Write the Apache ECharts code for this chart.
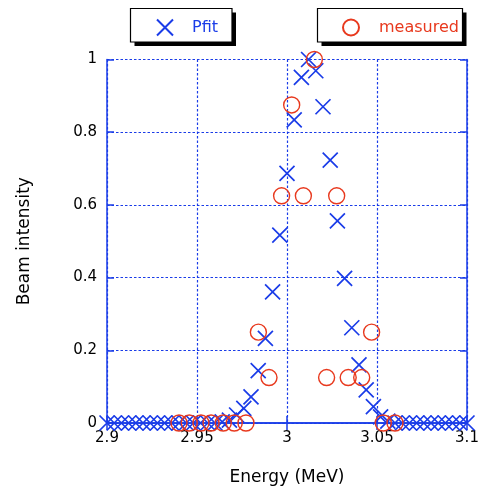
<!DOCTYPE html>
<html>
<head>
<meta charset="utf-8">
<script src="https://cdn.jsdelivr.net/npm/echarts@6/dist/echarts.min.js"></script>
<style>html,body{margin:0;padding:0;background:#fff;}#c{width:481px;height:488px;}</style>
</head>
<body>
<div id="c"></div>
<script>
// Pfit (crosses)
const pfitX = [2.900,2.904,2.908,2.912,2.916,2.920,2.924,2.928,2.932,2.936,
  2.940,2.944,2.948,2.952,2.956,2.960,2.964,2.968,2.972,2.976,
  2.980,2.984,2.988,2.992,2.996,3.000,3.004,3.008,3.012,3.016,
  3.020,3.024,3.028,3.032,3.036,3.040,3.044,3.048,3.052,3.056,
  3.060,3.064,3.068,3.072,3.076,3.080,3.084,3.088,3.092,3.096,3.100];
const pfitY = [0,0,0,0,0,0,0,0,0,0,
  0,0,0,0,0,0,0.003,0.008,0.022,0.040,
  0.072,0.144,0.233,0.361,0.517,0.687,0.834,0.951,1.000,0.969,
  0.870,0.723,0.556,0.398,0.262,0.160,0.091,0.045,0.017,0.005,
  0,0,0,0,0,0,0,0,0,0,0];
// measured (circles)
const measX = [2.940,2.9457,2.9522,2.9578,2.9646,2.9707,2.9772,2.9841,2.990,2.997,
  3.0026,3.0091,3.0152,3.022,3.0276,3.034,3.0415,3.047,3.0535,3.060];
const measY = [0,0,0,0,0,0,0,0.25,0.125,0.625,
  0.875,0.625,1.0,0.125,0.625,0.125,0.125,0.25,0,0];
const xTicks = ['2.9','2.95','3','3.05','3.1'];
const yTicks = ['0','0.2','0.4','0.6','0.8','1'];

const BLUE = '#1a3ce8';
const RED = '#e8391e';
const FONT = 'DejaVu Sans';
const CROSS = 'path://M0,0L10,10M10,0L0,10';

const chart = echarts.init(document.getElementById('c'), null, {renderer: 'canvas'});
const zip = (a, b) => a.map((v, i) => [v, b[i]]);

const gridLine = {show: true, lineStyle: {color: BLUE, width: 1.2, type: [2.5, 2]}};
const tickIn = {show: true, inside: true, length: 7, lineStyle: {color: BLUE, width: 1.5}};

chart.setOption({
  animation: false,
  backgroundColor: '#fff',
  grid: {left: 107, right: 14, top: 59.5, bottom: 65, containLabel: false, outerBoundsMode: 'none'},
  graphic: [
    {type: 'rect', z: 1, shape: {x: 134.5, y: 12.5, width: 101.5, height: 33.5}, style: {fill: '#000'}},
    {type: 'rect', z: 1, shape: {x: 130.5, y: 8.5, width: 101.5, height: 33.5}, style: {fill: '#fff', stroke: '#000', lineWidth: 1.2}},
    {type: 'rect', z: 1, shape: {x: 321.5, y: 12.5, width: 145, height: 33.5}, style: {fill: '#000'}},
    {type: 'rect', z: 1, shape: {x: 317.5, y: 8.5, width: 145, height: 33.5}, style: {fill: '#fff', stroke: '#000', lineWidth: 1.2}}
  ],
  legend: [
    {data: ['Pfit'], left: 156, top: 18.5, padding: 0, itemWidth: 16, itemHeight: 16,
     textStyle: {color: BLUE, fontFamily: FONT, fontSize: 16, padding: [0, 0, 0, 14]}},
    {data: ['measured'], left: 342, top: 18.5, padding: 0, itemWidth: 16, itemHeight: 16,
     textStyle: {color: RED, fontFamily: FONT, fontSize: 16, padding: [0, 0, 0, 15]}}
  ],
  xAxis: [
    {type: 'value', min: 2.9, max: 3.1, interval: 0.05,
     name: 'Energy (MeV)', nameLocation: 'middle', nameGap: 46,
     nameTextStyle: {color: '#000', fontFamily: FONT, fontSize: 17},
     axisLine: {show: true, onZero: false, lineStyle: {color: BLUE, width: 1.5}},
     axisTick: tickIn, splitLine: gridLine,
     axisLabel: {color: '#000', fontFamily: FONT, fontSize: 15, margin: 8,
       formatter: v => xTicks[Math.round((v - 2.9) / 0.05)]}},
    {type: 'value', position: 'top', min: 2.9, max: 3.1, interval: 0.05,
     axisLine: {show: true, lineStyle: {color: BLUE, width: 1.5}},
     axisTick: tickIn, axisLabel: {show: false}, splitLine: {show: false}}
  ],
  yAxis: [
    {type: 'value', min: 0, max: 1, interval: 0.2,
     name: 'Beam intensity', nameLocation: 'middle', nameGap: 74,
     nameTextStyle: {color: '#000', fontFamily: FONT, fontSize: 17},
     axisLine: {show: true, onZero: false, lineStyle: {color: BLUE, width: 1.5}},
     axisTick: tickIn, splitLine: gridLine,
     axisLabel: {color: '#000', fontFamily: FONT, fontSize: 15, margin: 10,
       formatter: v => yTicks[Math.round(v / 0.2)]}},
    {type: 'value', position: 'right', min: 0, max: 1, interval: 0.2,
     axisLine: {show: true, lineStyle: {color: BLUE, width: 1.5}},
     axisTick: tickIn, axisLabel: {show: false}, splitLine: {show: false}}
  ],
  series: [
    {name: 'Pfit', type: 'scatter', data: zip(pfitX, pfitY), symbol: CROSS, symbolSize: 15,
     clip: false, z: 3,
     itemStyle: {color: 'rgba(0,0,0,0)', borderColor: BLUE, borderWidth: 1.7, opacity: 1}},
    {name: 'measured', type: 'scatter', data: zip(measX, measY), symbol: 'circle', symbolSize: 16,
     clip: false, z: 4,
     itemStyle: {color: 'rgba(0,0,0,0)', borderColor: RED, borderWidth: 1.4, opacity: 1}}
  ]
});
</script>
</body>
</html>
